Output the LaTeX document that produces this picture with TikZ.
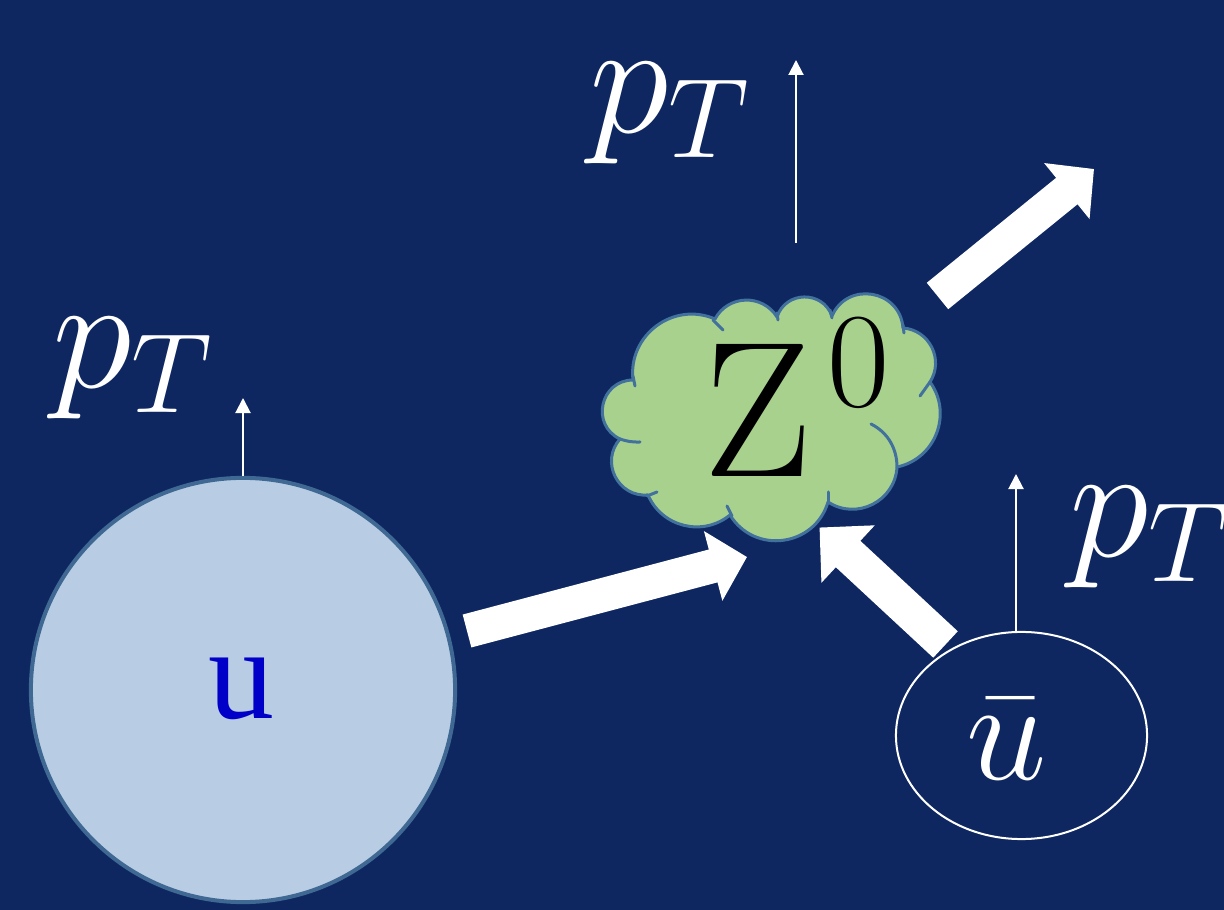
\RequirePackage{fix-cm}
\documentclass[tikz,border=0pt]{standalone}
\usepackage{fontspec}
\newfontfamily\timesfont{Liberation Serif}
\usetikzlibrary{shapes.geometric,arrows.meta}
\definecolor{navy}{HTML}{0E2761}
\definecolor{cloudgreen}{HTML}{A9D18E}
\definecolor{cloudedge}{HTML}{41719C}
\definecolor{ballfill}{HTML}{B8CCE4}
\definecolor{balledge}{HTML}{3F6893}
\definecolor{ublue}{HTML}{0000C8}
\tikzset{
  bigarrow/.style={white, line width=0.34cm, -{Triangle[length=0.35cm, width=0.70cm]}},
  thinarrow/.style={white, line width=0.02cm, -{Triangle[length=0.15cm, width=0.15cm]}},
  ptlabel/.style={text=white, inner sep=0, anchor=base, font=\fontsize{46}{50}\selectfont},
  cloudline/.style={draw=cloudedge, line width=0.03cm, line join=round, line cap=round},
}
\begin{document}
\begin{tikzpicture}[x=0.01cm, y=-0.01cm]
\useasboundingbox (0,0) rectangle (1224,910);
\fill[navy] (0,0) rectangle (1224,910);

% big u ball
\node[circle, fill=ballfill, draw=balledge, line width=0.04cm, minimum size=4.24cm, inner sep=0] (u) at (243,690) {};
\node[text=ublue, inner sep=0, anchor=base, font=\timesfont\fontsize{37.5}{40}\selectfont] (utext) at (241.5,719) {u};

% Z cloud (outline of puffs)
\path[cloudline, fill=cloudgreen]
  (633,380) to[bend left=60, looseness=1.135] (715,319)
  to[bend left=60, looseness=1.135] (777,317)
  to[bend left=71, looseness=1.28] (832,316)
  to[bend left=76, looseness=1.37] (903,328)
  to[bend left=59, looseness=1.125] (930,382)
  to[bend left=57, looseness=1.10] (897,467)
  to[bend left=60, looseness=1.135] (828,502)
  to[bend left=66, looseness=1.21] (730,515)
  to[bend left=53, looseness=1.06] (648,495)
  to[bend left=68, looseness=1.24] (620,439)
  to[bend left=77, looseness=1.39] (633,380) -- cycle;
% inner puff stubs
\draw[cloudline] (633,376) -- (635,386);
\draw[cloudline] (620,439) to[bend right=10] (640,442);
\draw[cloudline] (647,496) -- (657,492);
\draw[cloudline] (732,516) -- (727,506);
\draw[cloudline] (713,320) -- (723,330);
\draw[cloudline] (777,313) -- (778,320);
\draw[cloudline] (830,310) -- (832,318);
\draw[cloudline] (903,325) -- (904,333);
\draw[cloudline] (930,382) -- (920,396);
\draw[cloudline] (871,424) .. controls (889,433) and (897,450) .. (897,467);
\draw[cloudline] (828,492) -- (828,502);
\node[text=black, inner sep=0, anchor=base, font=\fontsize{55}{60}\selectfont] (ztext) at (797,477) {$\mathrm{Z}^{\mkern2mu 0}$};

% anti-u ellipse
\node[ellipse, draw=white, line width=0.02cm, minimum width=2.51cm, minimum height=2.07cm, inner sep=0] (ubar) at (1021.5,735.5) {};
\node[text=white, inner sep=0, anchor=base, font=\fontsize{41}{45}\selectfont] (ubartext) at (1007,780) {$\bar{u}$};

% pT labels
\node[ptlabel] (ptl) at (133,388) {$p_T$};
\node[ptlabel] (ptt) at (670,133) {$p_T$};
\node[ptlabel] (ptr) at (1150,557) {$p_T$};

% thin pT arrows
\coordinate (ltip) at (243,398);
\coordinate (tbase) at (796,243);
\coordinate (ttip) at (796,60);
\coordinate (rtip) at (1016,474);
\draw[thinarrow] (u.north) -- (ltip);
\draw[thinarrow] (tbase) -- (ttip);
\draw[thinarrow] (rtip |- ubar.north) -- (rtip);

% thick arrows
\coordinate (a1s) at (467,631);
\coordinate (a1e) at (747,557);
\coordinate (a2s) at (945.5,644.5);
\coordinate (a2e) at (819.5,527.5);
\coordinate (a3s) at (937.5,296);
\coordinate (a3e) at (1094,169);
\draw[bigarrow] (a1s) -- (a1e);
\draw[bigarrow, line width=0.36cm, -{Triangle[length=0.39cm, width=0.76cm]}] (a2s) -- (a2e);
\draw[bigarrow] (a3s) -- (a3e);
\end{tikzpicture}
\end{document}
